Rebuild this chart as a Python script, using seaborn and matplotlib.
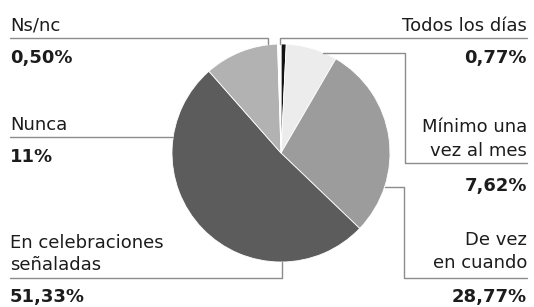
import matplotlib
matplotlib.use('Agg')
import matplotlib.pyplot as plt
import seaborn as sns

# slices, clockwise from 12 o'clock
CATEGORIES = ["Todos los días", "Mínimo una vez al mes", "De vez en cuando",
              "En celebraciones señaladas", "Nunca", "Ns/nc"]
VALUES = [0.77, 7.62, 28.77, 51.33, 11.0, 0.50]
VALUE_LABELS = ["0,77%", "7,62%", "28,77%", "51,33%", "11%", "0,50%"]
COLORS = ["#141414", "#ececec", "#9c9c9c", "#5c5c5c", "#b2b2b2", "#ffffff"]

sns.set_theme(style="white")
plt.rcParams['font.family'] = ['DejaVu Sans']

W, H = 534, 307
fig = plt.figure(figsize=(W / 100, H / 100), dpi=100)
fig.patch.set_facecolor("white")

# pie placed in pixel box: centre (281, 153), radius 109
cx, cy, r = 281, 153, 109
ax_pie = fig.add_axes([(cx - r) / W, (H - cy - r) / H, 2 * r / W, 2 * r / H])
ax_pie.pie(VALUES, colors=COLORS, startangle=90, counterclock=False,
           wedgeprops=dict(edgecolor="white", linewidth=0.6))
ax_pie.set_xlim(-1, 1)
ax_pie.set_ylim(-1, 1)
ax_pie.axis('off')

# overlay in pixel coordinates for labels and leader lines
ax = fig.add_axes([0, 0, 1, 1], zorder=3)
ax.set_xlim(0, W)
ax.set_ylim(H, 0)
ax.axis('off')
ax.patch.set_alpha(0)

txt = dict(fontsize=13, color="#1c1c1c", va="baseline")
num = dict(fontsize=13, color="#1c1c1c", va="baseline", fontweight="bold")
line = dict(color="#8c8c8c", linewidth=1)

# left side
ax.text(10, 31, "Ns/nc", ha="left", **txt)
ax.text(10, 63, VALUE_LABELS[5], ha="left", **num)
ax.plot([10, 268, 268], [38, 38, 44], **line)

ax.text(10, 130.5, "Nunca", ha="left", **txt)
ax.text(10, 162.5, VALUE_LABELS[4], ha="left", **num)
ax.plot([10, 173], [137, 137], **line)

ax.text(10, 248, "En celebraciones", ha="left", **txt)
ax.text(10, 270, "señaladas", ha="left", **txt)
ax.text(10, 302, VALUE_LABELS[3], ha="left", **num)
ax.plot([10, 282, 282], [278, 278, 262], **line)

# right side
ax.text(527, 31, "Todos los días", ha="right", **txt)
ax.text(527, 63, VALUE_LABELS[0], ha="right", **num)
ax.plot([527, 280, 280], [38, 38, 44], **line)

ax.text(527, 131.5, "Mínimo una", ha="right", **txt)
ax.text(527, 156, "vez al mes", ha="right", **txt)
ax.text(527, 191, VALUE_LABELS[1], ha="right", **num)
ax.plot([323, 405, 405, 527], [53, 53, 163, 163], **line)

ax.text(527, 245, "De vez", ha="right", **txt)
ax.text(527, 268, "en cuando", ha="right", **txt)
ax.text(527, 302, VALUE_LABELS[2], ha="right", **num)
ax.plot([385, 404, 404, 527], [187, 187, 278, 278], **line)

fig.savefig("out.png", dpi=100)
